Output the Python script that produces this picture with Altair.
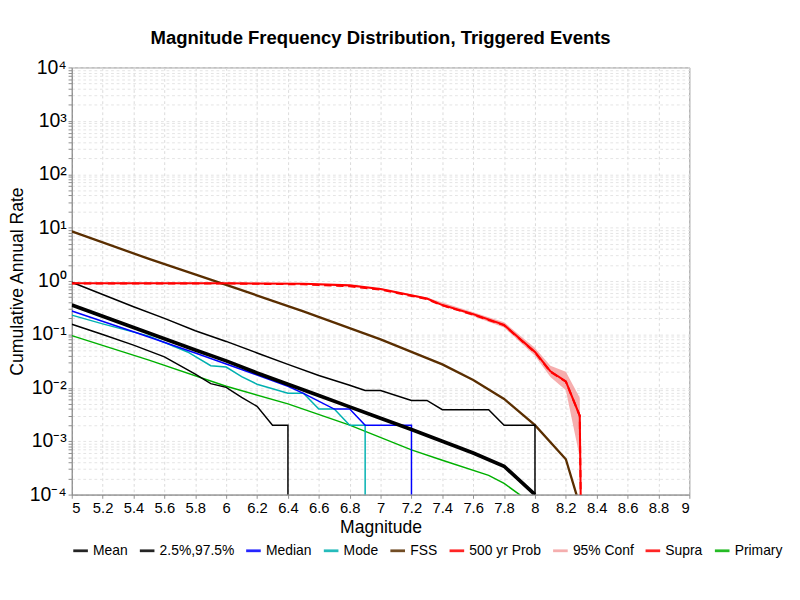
import pandas as pd
import altair as alt

# magnitude / cumulative rate for each curve
mean_m = [5, 5.2, 5.4, 5.6, 5.8, 6.0, 6.2, 6.4, 6.6, 6.8, 7.0, 7.2, 7.4, 7.6, 7.8, 8.0]
mean_r = [0.355, 0.219, 0.135, 0.083, 0.051, 0.032, 0.019, 0.0117, 0.0072, 0.0044, 0.0027, 0.00166, 0.001, 0.0006, 0.00034, 0.0001]

hi_m = [5, 5.2, 5.4, 5.6, 5.8, 6.0, 6.2, 6.4, 6.6, 6.8, 6.9, 7.0, 7.2, 7.3, 7.4, 7.7, 7.8, 8.0, 8.0]
hi_r = [0.95, 0.56, 0.33, 0.2, 0.117, 0.074, 0.045, 0.0275, 0.017, 0.0112, 0.0089, 0.0089, 0.0058, 0.0058, 0.0039, 0.0039, 0.002, 0.002, 1e-5]

lo_m = [5, 5.2, 5.4, 5.6, 5.8, 5.9, 6.0, 6.1, 6.2, 6.3, 6.4, 6.4]
lo_r = [0.155, 0.1, 0.063, 0.038, 0.018, 0.012, 0.0102, 0.0066, 0.0045, 0.002, 0.002, 1e-5]

med_m = [5, 5.4, 5.8, 6.0, 6.2, 6.4, 6.5, 6.7, 6.8, 6.9, 7.2, 7.2]
med_r = [0.275, 0.112, 0.045, 0.028, 0.0174, 0.0107, 0.0079, 0.004, 0.004, 0.002, 0.002, 1e-5]

mode_m = [5, 5.2, 5.5, 5.75, 5.9, 6.0, 6.1, 6.2, 6.4, 6.5, 6.6, 6.7, 6.8, 6.9, 6.9]
mode_r = [0.23, 0.158, 0.093, 0.047, 0.026, 0.0245, 0.0162, 0.0117, 0.0079, 0.0079, 0.004, 0.004, 0.002, 0.002, 1e-5]

fss_m = [5, 5.5, 6, 6.5, 7, 7.4, 7.6, 7.8, 8.0, 8.2, 8.3]
fss_r = [8.5, 2.6, 0.85, 0.27, 0.081, 0.0275, 0.014, 0.0062, 0.002, 0.00046, 0.00005]

prob_m = [5, 5.5, 6, 6.5, 6.8, 7.0, 7.3, 7.4, 7.6, 7.8, 8.0, 8.1, 8.2, 8.29, 8.3]
prob_r = [0.91, 0.91, 0.91, 0.89, 0.83, 0.71, 0.47, 0.355, 0.24, 0.151, 0.047, 0.0204, 0.0132, 0.003, 1e-5]
supra_r = [0.9, 0.9, 0.9, 0.87, 0.8, 0.69, 0.46, 0.35, 0.235, 0.148, 0.046, 0.02, 0.013, 0.003, 1e-5]

conf_m = [7.0, 7.3, 7.6, 7.8, 8.0, 8.1, 8.2, 8.29, 8.3]
conf_lo = [0.69, 0.45, 0.22, 0.135, 0.04, 0.016, 0.009, 0.0005, 1e-5]
conf_hi = [0.73, 0.49, 0.26, 0.17, 0.056, 0.026, 0.02, 0.0065, 1e-5]

prim_m = [5, 5.5, 6.0, 6.4, 6.8, 7.2, 7.4, 7.7, 7.8, 7.9, 8.0]
prim_r = [0.095, 0.033, 0.0107, 0.005, 0.002, 0.00069, 0.00044, 0.00023, 0.000162, 0.0001, 0.00005]

names = ["Mean", "2.5%,97.5%", "Median", "Mode", "FSS", "500 yr Prob", "95% Conf", "Supra", "Primary"]
colors = ["black", "black", "#0000ff", "#00b0b0", "#5a2e00", "#ff0000", "#f4a0a0", "#ff0000", "#00b000"]
width_of = {"Mean": 4, "2.5%,97.5%": 1.6, "Median": 1.6, "Mode": 1.6, "FSS": 2.5,
            "500 yr Prob": 2.2, "Supra": 2.2, "Primary": 1.6}

rows = []
def add(series, key, ms, rs):
    for i, (m, r) in enumerate(zip(ms, rs)):
        rows.append({"series": series, "key": key, "i": i, "M": m, "rate": r, "w": width_of[series]})

add("FSS", "fss", fss_m, fss_r)
add("Primary", "prim", prim_m, prim_r)
add("2.5%,97.5%", "hi", hi_m, hi_r)
add("2.5%,97.5%", "lo", lo_m, lo_r)
add("Mode", "mode", mode_m, mode_r)
add("Median", "med", med_m, med_r)
add("Mean", "mean", mean_m, mean_r)
add("500 yr Prob", "prob", prob_m, prob_r)
df = pd.DataFrame(rows)
supra = pd.DataFrame({"series": "Supra", "M": prob_m, "rate": supra_r})
band = pd.DataFrame({"series": "95% Conf", "M": conf_m, "lo": conf_lo, "hi": conf_hi})

sup = "['10⁻⁴','10⁻³','10⁻²','10⁻¹','10⁰','10¹','10²','10³','10⁴'][round(log(datum.value)/LN10)+4]"
yvals = [k * 10 ** e for e in range(-4, 4) for k in range(1, 10)] + [1e4]
yscale = alt.Scale(type="log", domain=[1e-4, 1e4], nice=False)

xs = alt.X("M:Q", scale=alt.Scale(domain=[5, 9], nice=False),
           axis=alt.Axis(title="Magnitude", values=[round(5 + 0.2 * k, 1) for k in range(21)],
                         format=".1~f", labelOverlap=False,
                         labelFontSize=16, titleFontSize=19, titleFontWeight="normal",
                         gridDash=[3, 3], gridColor="#d8d8d8", labelColor="black",
                         titleColor="black", domainColor="#888", tickColor="#888", tickSize=4))
ys = alt.Y("rate:Q", scale=yscale,
           axis=alt.Axis(title="Cumulative Annual Rate", values=yvals, labelFontSize=21,
                         labelExpr=f"abs(log(datum.value)/LN10 - round(log(datum.value)/LN10)) < 0.001 ? {sup} : ''",
                         titleFontSize=19, titleFontWeight="normal", gridDash=[3, 3],
                         gridColor="#e2e2e2", labelColor="black", titleColor="black",
                         domainColor="#888", tickColor="#888", tickSize=4, titlePadding=4))

col = alt.Color("series:N", scale=alt.Scale(domain=names, range=colors),
                legend=alt.Legend(orient="bottom", direction="horizontal", columns=9, title=None,
                                  symbolType="stroke", labelFontSize=15, symbolSize=250,
                                  symbolStrokeWidth=3, columnPadding=6, labelColor="black",
                                  offset=6))

area = alt.Chart(band).mark_area(opacity=0.85, clip=True).encode(
    x=xs, y=alt.Y("lo:Q", scale=yscale), y2="hi:Q", color=col)

lines = alt.Chart(df).mark_line(clip=True).encode(
    x=xs, y=ys, color=col, strokeWidth=alt.StrokeWidth("w:Q", scale=None),
    detail="key:N", order="i:Q")

supra_line = alt.Chart(supra).mark_line(clip=True, strokeDash=[8, 5], strokeWidth=2.2).encode(
    x=xs, y=ys, color=col)

chart = alt.layer(area, supra_line, lines).properties(
    width=668, height=462,
    padding={"left": 0, "top": 0, "right": 10, "bottom": 0},
    title=alt.TitleParams("Magnitude Frequency Distribution, Triggered Events",
                          fontSize=20, font="Liberation Sans", fontWeight="bold", offset=10),
).configure(font="Liberation Sans").configure_view(stroke="#888")

chart.save("out.html", embed_options={"renderer": "svg", "actions": False})
